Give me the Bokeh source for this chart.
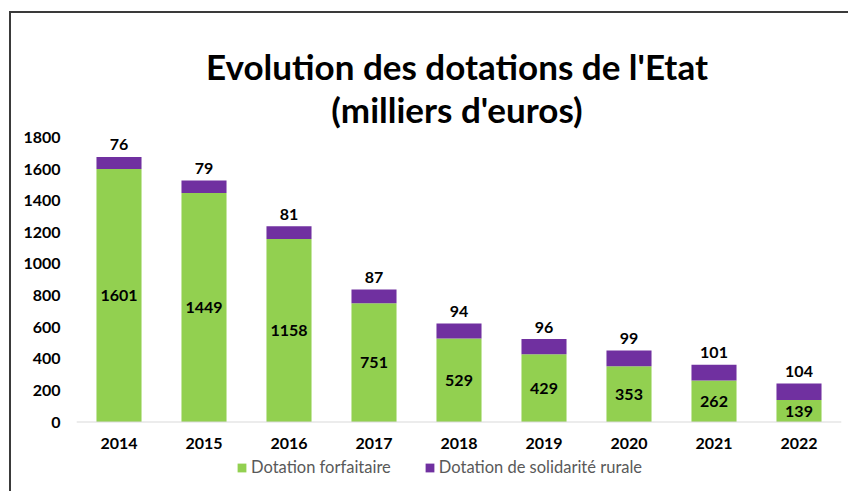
from bokeh.plotting import figure
from bokeh.models import ColumnDataSource, Legend, LegendItem, Range1d, Span
from bokeh.core.properties import value
from bokeh.embed import file_html
from bokeh.resources import INLINE

years = ["2014", "2015", "2016", "2017", "2018", "2019", "2020", "2021", "2022"]
forfaitaire = [1601, 1449, 1158, 751, 529, 429, 353, 262, 139]
solidarite = [76, 79, 81, 87, 94, 96, 99, 101, 104]
y_ticks = [0, 200, 400, 600, 800, 1000, 1200, 1400, 1600, 1800]
series_names = ["Dotation forfaitaire", "Dotation de solidarité rurale"]
title_lines = ["Evolution des dotations de l'Etat", "(milliers d'euros)"]
colors = ["#92D050", "#7030A0"]

FONT = "Lato"

# ---- layout geometry (pixels) ----
W, H = 839, 480
FRAME_H = H                      # frame spans full canvas height
Y0_FROM_TOP = 408.5              # pixel row of value 0 inside frame
PX_1800 = 284.5                  # pixels for 1800 units
u_per_px = 1800 / PX_1800
y_end = Y0_FROM_TOP * u_per_px
y_start = -(FRAME_H - Y0_FROM_TOP) * u_per_px

def row(px_from_top):
    return (Y0_FROM_TOP - px_from_top) * u_per_px

idx = list(range(len(years)))
src = ColumnDataSource(dict(
    x=idx,
    years=years,
    forf=forfaitaire,
    dsr=solidarite,
    forf_mid=[f / 2 for f in forfaitaire],
    top=[f + s for f, s in zip(forfaitaire, solidarite)],
    forf_lbl=[str(v) for v in forfaitaire],
    dsr_lbl=[str(v) for v in solidarite],
    lab_y=[row(430)] * len(years),
))

x_range = Range1d(-0.5, len(years) - 0.5)
p = figure(width=W, height=H, x_range=x_range, y_range=Range1d(y_start, y_end),
           output_backend="svg", toolbar_location=None, x_axis_location=None,
           min_border_left=65, min_border_right=9, min_border_bottom=0, min_border_top=0)
p.margin = (11, 0, 0, 9)
p.styles = {"border-top": "2px solid #3a3a3a", "border-left": "2px solid #3a3a3a"}

rs = p.vbar_stack(["forf", "dsr"], x="x", width=0.53, source=src,
                  color=colors, line_color=None)

p.add_layout(Span(location=0, dimension="width", line_color="#D9D9D9", line_width=1))

p.text(x="x", y="forf_mid", text="forf_lbl", source=src, text_align="center",
       text_baseline="middle", text_font=value(FONT), text_font_style="bold",
       text_font_size="16px", text_color="#000000")
p.text(x="x", y="top", text="dsr_lbl", source=src, text_align="center",
       text_baseline="middle", y_offset=-12, text_font=value(FONT), text_font_style="bold",
       text_font_size="16px", text_color="#000000")
# category labels
p.text(x="x", y="lab_y", text="years", source=src, text_align="center",
       text_baseline="middle", text_font=value(FONT), text_font_style="bold",
       text_font_size="16px", text_color="#000000")

# title (two lines)
xc = (x_range.start + x_range.end) / 2
p.text(x=[xc, xc], y=[row(52), row(95)], text=title_lines, text_align="center",
       text_baseline="middle", x_offset=-2, text_font=value(FONT), text_font_style="bold",
       text_font_size="35px", text_color="#000000")

p.xgrid.grid_line_color = None
p.ygrid.grid_line_color = None
p.outline_line_color = None
p.background_fill_color = "white"
p.border_fill_color = "white"

p.yaxis.ticker = y_ticks
p.yaxis.axis_line_color = None
p.yaxis.major_tick_line_color = None
p.yaxis.minor_tick_line_color = None
p.yaxis.major_tick_out = 0
p.yaxis.major_label_standoff = 16
p.yaxis.major_label_text_font = FONT
p.yaxis.major_label_text_font_style = "bold"
p.yaxis.major_label_text_font_size = "16px"
p.yaxis.major_label_text_color = "#000000"

legend = Legend(items=[LegendItem(label=series_names[0], renderers=[rs[0]]),
                       LegendItem(label=series_names[1], renderers=[rs[1]])],
                orientation="horizontal", location=(160, 16),
                label_text_font=FONT, label_text_font_size="16.5px", label_text_color="#595959",
                glyph_width=11, glyph_height=11, spacing=33, padding=0, margin=0,
                label_standoff=4, border_line_color=None, background_fill_alpha=0)
p.add_layout(legend, "center")

open("out.html", "w").write(file_html(p, INLINE))
